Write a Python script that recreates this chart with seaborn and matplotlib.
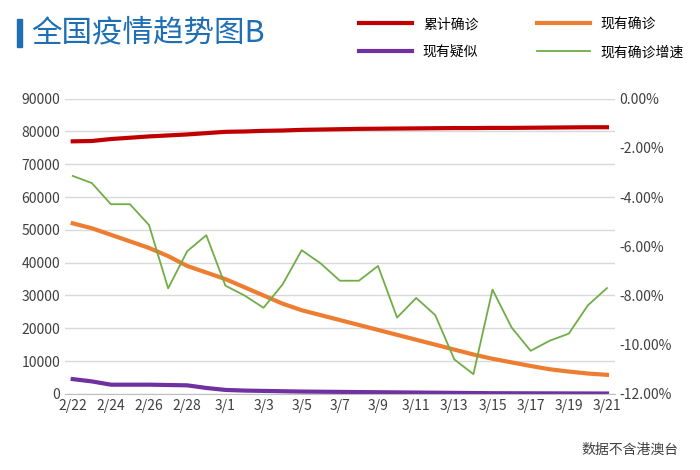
import matplotlib
matplotlib.use("Agg")
import matplotlib.pyplot as plt
import seaborn as sns
import pandas as pd
from matplotlib.ticker import FuncFormatter

plt.rcParams["font.family"] = ["Noto Sans CJK SC"]

dates = ["2/22","2/23","2/24","2/25","2/26","2/27","2/28","2/29","3/1","3/2","3/3","3/4","3/5","3/6","3/7",
         "3/8","3/9","3/10","3/11","3/12","3/13","3/14","3/15","3/16","3/17","3/18","3/19","3/20","3/21"]
cumulative = [77000,77100,77700,78100,78500,78800,79100,79500,79900,80000,80200,80300,80500,80600,80700,
              80800,80850,80900,80950,81000,81050,81050,81100,81100,81150,81200,81250,81300,81300]
current = [52000,50500,48500,46500,44500,42000,39000,37000,35000,32500,30000,27500,25500,24000,22500,
           21000,19500,18000,16500,15000,13500,12000,10700,9600,8500,7500,6800,6200,5800]
suspected = [4500,3800,2800,2800,2800,2700,2600,1800,1200,1000,900,800,700,650,600,
             550,500,450,400,350,300,250,200,180,160,150,130,120,100]
growth = [-3.14,-3.43,-4.29,-4.29,-5.14,-7.71,-6.2,-5.55,-7.6,-8.0,-8.5,-7.55,-6.16,-6.7,-7.4,
          -7.4,-6.8,-8.9,-8.1,-8.8,-10.6,-11.2,-7.76,-9.3,-10.25,-9.84,-9.55,-8.4,-7.7]

df = pd.DataFrame({"x": range(len(dates)), "cum": cumulative, "cur": current, "sus": suspected, "g": growth})

fig = plt.figure(figsize=(7, 4.7), dpi=100)
ax = fig.add_axes([0.093, 0.162, 0.785, 0.628])
ax2 = ax.twinx()

sns.lineplot(data=df, x="x", y="cum", ax=ax, color="#C00000", lw=3, label="累计确诊", legend=False)
sns.lineplot(data=df, x="x", y="cur", ax=ax, color="#ED7D31", lw=3, label="现有确诊", legend=False)
sns.lineplot(data=df, x="x", y="sus", ax=ax, color="#7030A0", lw=3, label="现有疑似", legend=False)
sns.lineplot(data=df, x="x", y="g", ax=ax2, color="#70AD47", lw=1.3, label="现有确诊增速", legend=False)

ax.set_ylim(0, 90000)
ax.set_yticks(range(0, 90001, 10000))
ax2.set_ylim(-12, 0)
ax2.set_yticks(range(-12, 1, 2))
ax2.yaxis.set_major_formatter(FuncFormatter(lambda v, p: f"{v:.2f}%"))
ax.set_xlim(-0.4, len(dates) - 0.6)
ax.set_xticks(range(0, len(dates), 2))
ax.set_xticklabels(dates[::2])
ax.grid(axis="y", color="#D9D9D9", lw=1)
ax.set_axisbelow(True)
for a in (ax, ax2):
    for s in ["top", "right", "left"]:
        a.spines[s].set_visible(False)
    a.tick_params(length=0, labelsize=10, colors="#404040")
ax2.spines["bottom"].set_visible(False)
ax.spines["bottom"].set_color("#BFBFBF")
ax.set_xlabel(""); ax.set_ylabel(""); ax2.set_ylabel("")

h1, lb1 = ax.get_legend_handles_labels()
h2, lb2 = ax2.get_legend_handles_labels()
hs = [h1[0], h1[2], h1[1], h2[0]]
ls = [lb1[0], lb1[2], lb1[1], lb2[0]]
fig.legend(hs, ls, ncol=2, loc="upper left", bbox_to_anchor=(0.495, 0.99), frameon=False,
           fontsize=10, columnspacing=4.2, handlelength=3.8, labelspacing=1.0)

fig.patches.append(plt.Rectangle((0.024, 0.9), 0.007, 0.06, transform=fig.transFigure, color="#1F6FB5"))
fig.text(0.045, 0.93, "全国疫情趋势图B", fontsize=22, color="#1F6FB5", va="center", fontweight="medium")
fig.text(0.97, 0.035, "数据不含港澳台", fontsize=10, color="#404040", ha="right")

fig.savefig("out.png", dpi=100)
